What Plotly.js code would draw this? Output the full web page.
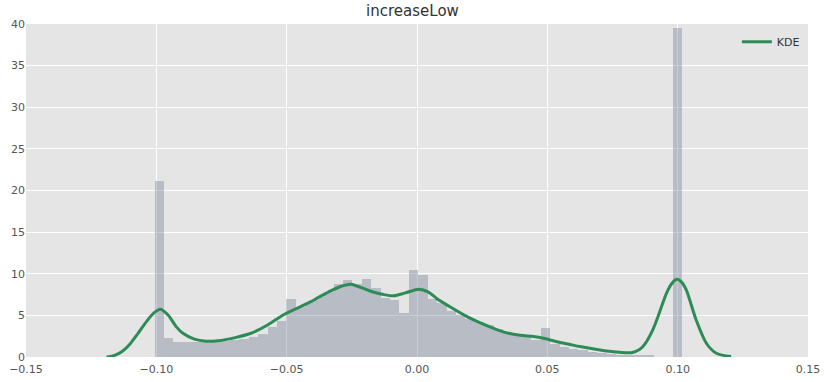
<!DOCTYPE html>
<html>
<head>
<meta charset="utf-8">
<script src="https://cdn.plot.ly/plotly-3.0.1.min.js"></script>
<style>html,body{margin:0;padding:0;background:#fff;}#chart{width:825px;height:382px;}</style>
</head>
<body>
<div id="chart"></div>
<script>
// Histogram (density) bins
const binStart = -0.1007;
const binWidth = 0.003614;
const densities = [
  21.1, 2.3, 1.8, 1.75, 1.75, 1.8, 1.85, 1.9, 2.05, 2.2,
  2.45, 2.8, 3.6, 4.3, 7.0, 6.05, 6.6, 7.2, 7.8, 8.75,
  9.25, 8.8, 9.4, 8.3, 7.05, 6.85, 5.3, 10.5, 9.9, 6.95,
  6.45, 5.5, 5.0, 4.6, 4.2, 3.8, 3.4, 3.0, 2.7, 2.45,
  2.05, 3.45, 1.55, 1.2, 1.0, 0.8, 0.6, 0.45, 0.35, 0.3,
  0.25, 0.25, 0.2, 0.03, 0.03, 39.5
];
// KDE curve
const kdeX = [-0.1191, -0.1160, -0.1130, -0.1100, -0.1070, -0.1038, -0.1007, -0.0985, -0.0955, -0.0924, -0.0898,
  -0.0854, -0.0809, -0.0764, -0.0701, -0.0637, -0.0573, -0.0510, -0.0450, -0.0407, -0.0376,
  -0.0331, -0.0290, -0.0254, -0.0178, -0.0128, -0.0089, -0.0044, 0.0007, 0.0044, 0.0077, 0.0128,
  0.0192, 0.0243, 0.0294, 0.0345, 0.0396, 0.0447, 0.0485, 0.0523, 0.0549, 0.0587,
  0.0625, 0.0702, 0.0778, 0.0823, 0.0855, 0.0874, 0.0905, 0.0925, 0.0957, 0.0977,
  0.0997, 0.1015, 0.1033, 0.1071, 0.1110, 0.1148, 0.1205];
const kdeY = [0.0, 0.2, 0.7, 1.6, 2.85, 4.25, 5.35, 5.75, 5.05, 3.65, 2.85,
  2.15, 1.9, 1.95, 2.3, 2.85, 3.85, 5.1, 6.0, 6.65, 7.2,
  7.95, 8.5, 8.75, 7.9, 7.5, 7.35, 7.7, 8.15, 7.8, 7.0, 6.0,
  4.85, 4.1, 3.45, 2.9, 2.6, 2.45, 2.25, 1.95, 1.75, 1.5,
  1.25, 0.85, 0.56, 0.52, 0.92, 1.55, 3.3, 4.9, 7.65, 8.8,
  9.33, 9.0, 8.05, 4.45, 1.65, 0.45, 0.05];
const xTicks = [-0.15, -0.10, -0.05, 0.00, 0.05, 0.10, 0.15];
const xTickText = ['\u22120.15', '\u22120.10', '\u22120.05', '0.00', '0.05', '0.10', '0.15'];
const yTicks = [0, 5, 10, 15, 20, 25, 30, 35, 40];

const binCenters = densities.map((_, i) => binStart + binWidth * (i + 0.5));

const traces = [
  {
    type: 'bar',
    x: binCenters,
    y: densities,
    width: densities.map(() => binWidth),
    marker: {color: 'rgba(114,127,149,0.4)', line: {width: 0}},
    showlegend: false,
    hoverinfo: 'x+y'
  },
  {
    type: 'scatter',
    mode: 'lines',
    name: 'KDE',
    x: kdeX,
    y: kdeY,
    line: {color: '#2E8B57', width: 3, shape: 'spline', smoothing: 0.8}
  }
];

const layout = {
  width: 825,
  height: 382,
  margin: {l: 26, r: 17, t: 24, b: 25},
  paper_bgcolor: '#ffffff',
  plot_bgcolor: '#E5E5E5',
  font: {family: 'DejaVu Sans, sans-serif', size: 11, color: '#555555'},
  title: {text: 'increaseLow', font: {size: 15, color: '#333333'}, x: 0.5, xanchor: 'center', y: 0.972, yanchor: 'middle'},
  bargap: 0,
  xaxis: {
    range: [-0.15, 0.15],
    tickvals: xTicks,
    ticktext: xTickText,
    showgrid: true,
    gridcolor: '#ffffff',
    gridwidth: 1,
    zeroline: false,
    showline: false,
    ticks: '',
    ticklen: 0,
    ticklabelstandoff: 4,
    fixedrange: true
  },
  yaxis: {
    range: [0, 40],
    tickvals: yTicks,
    showgrid: true,
    gridcolor: '#ffffff',
    gridwidth: 1,
    zeroline: false,
    showline: false,
    ticks: '',
    fixedrange: true
  },
  legend: {
    x: 0.996, y: 0.99, xanchor: 'right', yanchor: 'top',
    bgcolor: 'rgba(0,0,0,0)',
    font: {size: 11, color: '#333333'},
    itemwidth: 30
  }
};

Plotly.newPlot('chart', traces, layout, {displayModeBar: false, staticPlot: true});
</script>
</body>
</html>
